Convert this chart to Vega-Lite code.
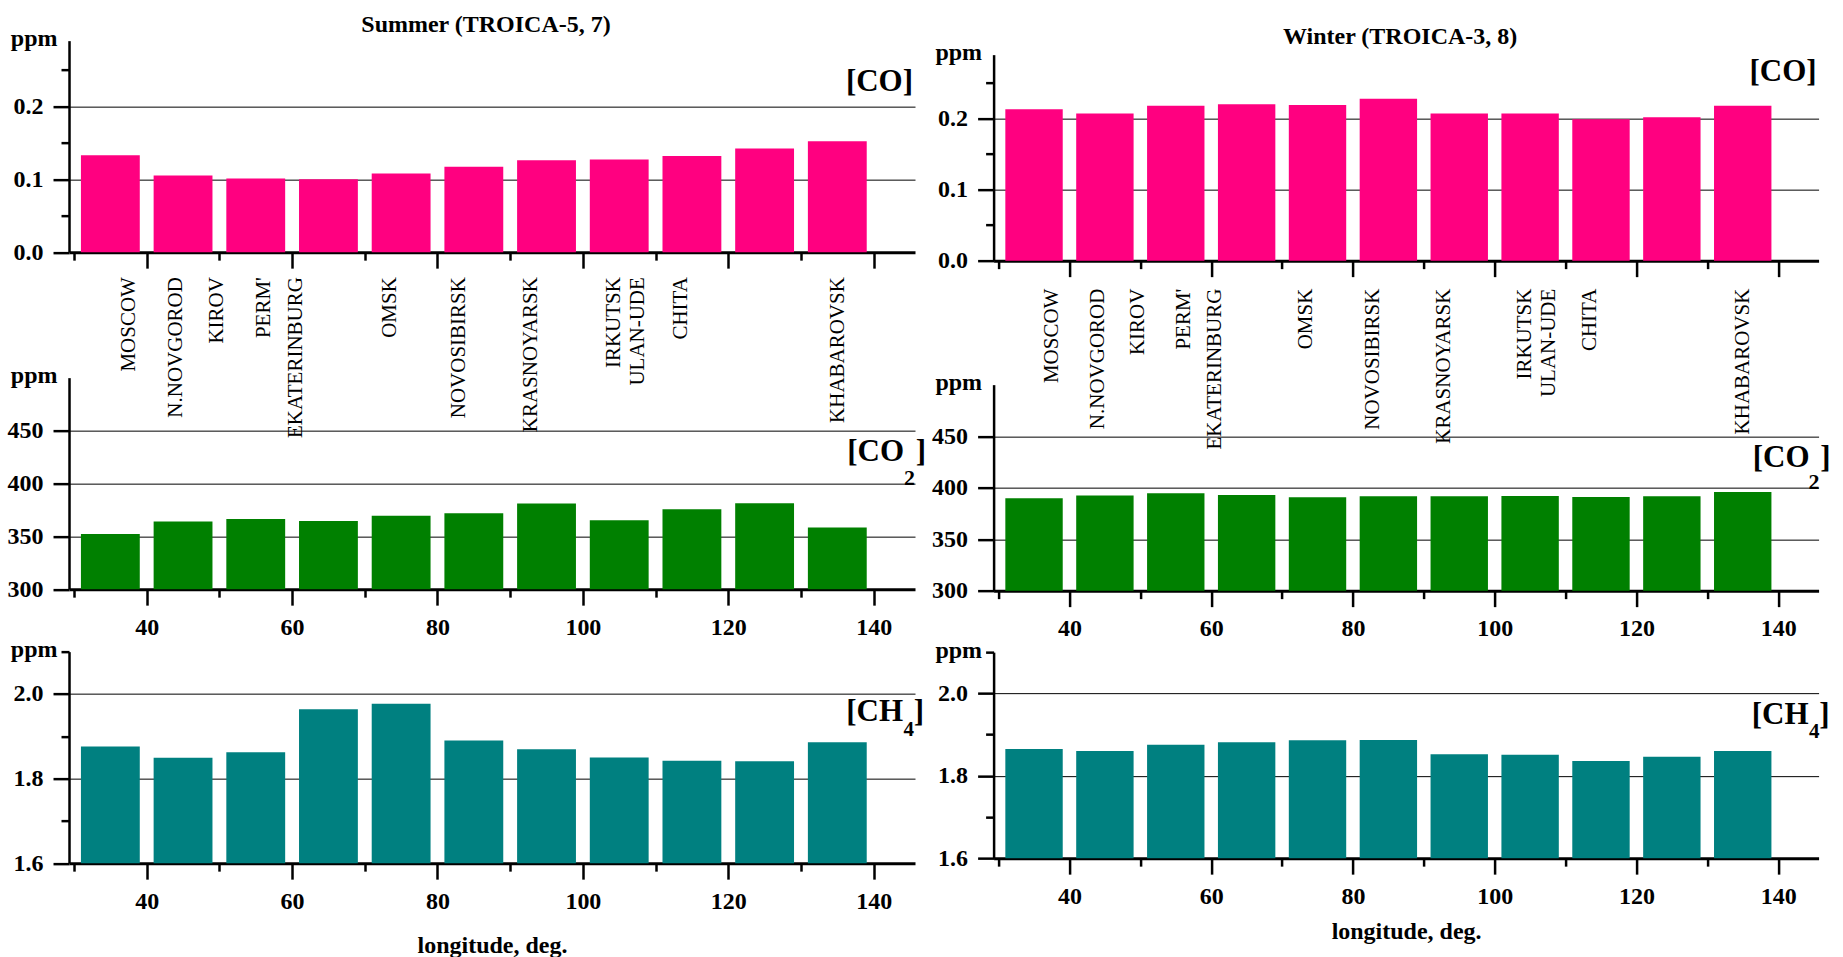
{
 "$schema": "https://vega.github.io/schema/vega-lite/v6.json",
 "padding": {"left": 7, "top": 12.4, "right": 0, "bottom": 0},
 "background": "white",
 "config": {
  "font": "Liberation Serif",
  "view": {"stroke": null},
  "axis": {"domainColor": "#000", "tickColor": "#000", "labelColor": "#000", "titleColor": "#000", "labelFontWeight": "bold", "titleFontWeight": "bold", "labelFontSize": 24, "titleFontSize": 24, "tickWidth": 2.5, "gridColor": "#000", "gridWidth": 1, "labelOverlap": false, "labelFlush": false, "labelBound": false, "labelPadding": 10},
  "axisX": {"domainWidth": 3, "zindex": 1, "grid": false},
  "axisY": {"domainWidth": 2.5, "titleAngle": 0, "titleAlign": "right", "titleBaseline": "alphabetic", "titleX": -12, "titleY": 5},
  "title": {"fontSize": 24, "fontWeight": "bold", "color": "#000", "anchor": "middle", "frame": "group"},
  "text": {"color": "#000"}
 },
 "datasets": {
  "gases": [
   {"season": "Summer", "gas": "CO", "lon": 35, "ppm": 0.133},
   {"season": "Summer", "gas": "CO", "lon": 45, "ppm": 0.105},
   {"season": "Summer", "gas": "CO", "lon": 55, "ppm": 0.101},
   {"season": "Summer", "gas": "CO", "lon": 65, "ppm": 0.100},
   {"season": "Summer", "gas": "CO", "lon": 75, "ppm": 0.108},
   {"season": "Summer", "gas": "CO", "lon": 85, "ppm": 0.117},
   {"season": "Summer", "gas": "CO", "lon": 95, "ppm": 0.126},
   {"season": "Summer", "gas": "CO", "lon": 105, "ppm": 0.127},
   {"season": "Summer", "gas": "CO", "lon": 115, "ppm": 0.132},
   {"season": "Summer", "gas": "CO", "lon": 125, "ppm": 0.142},
   {"season": "Summer", "gas": "CO", "lon": 135, "ppm": 0.152},
   {"season": "Summer", "gas": "CO2", "lon": 35, "ppm": 352.2},
   {"season": "Summer", "gas": "CO2", "lon": 45, "ppm": 363.9},
   {"season": "Summer", "gas": "CO2", "lon": 55, "ppm": 366.4},
   {"season": "Summer", "gas": "CO2", "lon": 65, "ppm": 364.5},
   {"season": "Summer", "gas": "CO2", "lon": 75, "ppm": 369.3},
   {"season": "Summer", "gas": "CO2", "lon": 85, "ppm": 371.8},
   {"season": "Summer", "gas": "CO2", "lon": 95, "ppm": 380.9},
   {"season": "Summer", "gas": "CO2", "lon": 105, "ppm": 365.2},
   {"season": "Summer", "gas": "CO2", "lon": 115, "ppm": 375.6},
   {"season": "Summer", "gas": "CO2", "lon": 125, "ppm": 381.3},
   {"season": "Summer", "gas": "CO2", "lon": 135, "ppm": 358.2},
   {"season": "Summer", "gas": "CH4", "lon": 35, "ppm": 1.876},
   {"season": "Summer", "gas": "CH4", "lon": 45, "ppm": 1.849},
   {"season": "Summer", "gas": "CH4", "lon": 55, "ppm": 1.862},
   {"season": "Summer", "gas": "CH4", "lon": 65, "ppm": 1.964},
   {"season": "Summer", "gas": "CH4", "lon": 75, "ppm": 1.977},
   {"season": "Summer", "gas": "CH4", "lon": 85, "ppm": 1.890},
   {"season": "Summer", "gas": "CH4", "lon": 95, "ppm": 1.869},
   {"season": "Summer", "gas": "CH4", "lon": 105, "ppm": 1.850},
   {"season": "Summer", "gas": "CH4", "lon": 115, "ppm": 1.842},
   {"season": "Summer", "gas": "CH4", "lon": 125, "ppm": 1.841},
   {"season": "Summer", "gas": "CH4", "lon": 135, "ppm": 1.886},
   {"season": "Winter", "gas": "CO", "lon": 35, "ppm": 0.213},
   {"season": "Winter", "gas": "CO", "lon": 45, "ppm": 0.207},
   {"season": "Winter", "gas": "CO", "lon": 55, "ppm": 0.218},
   {"season": "Winter", "gas": "CO", "lon": 65, "ppm": 0.220},
   {"season": "Winter", "gas": "CO", "lon": 75, "ppm": 0.219},
   {"season": "Winter", "gas": "CO", "lon": 85, "ppm": 0.228},
   {"season": "Winter", "gas": "CO", "lon": 95, "ppm": 0.207},
   {"season": "Winter", "gas": "CO", "lon": 105, "ppm": 0.207},
   {"season": "Winter", "gas": "CO", "lon": 115, "ppm": 0.199},
   {"season": "Winter", "gas": "CO", "lon": 125, "ppm": 0.202},
   {"season": "Winter", "gas": "CO", "lon": 135, "ppm": 0.218},
   {"season": "Winter", "gas": "CO2", "lon": 35, "ppm": 389.7},
   {"season": "Winter", "gas": "CO2", "lon": 45, "ppm": 392.3},
   {"season": "Winter", "gas": "CO2", "lon": 55, "ppm": 394.5},
   {"season": "Winter", "gas": "CO2", "lon": 65, "ppm": 392.8},
   {"season": "Winter", "gas": "CO2", "lon": 75, "ppm": 390.6},
   {"season": "Winter", "gas": "CO2", "lon": 85, "ppm": 391.6},
   {"season": "Winter", "gas": "CO2", "lon": 95, "ppm": 391.6},
   {"season": "Winter", "gas": "CO2", "lon": 105, "ppm": 392.0},
   {"season": "Winter", "gas": "CO2", "lon": 115, "ppm": 390.9},
   {"season": "Winter", "gas": "CO2", "lon": 125, "ppm": 391.6},
   {"season": "Winter", "gas": "CO2", "lon": 135, "ppm": 395.7},
   {"season": "Winter", "gas": "CH4", "lon": 35, "ppm": 1.865},
   {"season": "Winter", "gas": "CH4", "lon": 45, "ppm": 1.860},
   {"season": "Winter", "gas": "CH4", "lon": 55, "ppm": 1.875},
   {"season": "Winter", "gas": "CH4", "lon": 65, "ppm": 1.881},
   {"season": "Winter", "gas": "CH4", "lon": 75, "ppm": 1.886},
   {"season": "Winter", "gas": "CH4", "lon": 85, "ppm": 1.887},
   {"season": "Winter", "gas": "CH4", "lon": 95, "ppm": 1.852},
   {"season": "Winter", "gas": "CH4", "lon": 105, "ppm": 1.851},
   {"season": "Winter", "gas": "CH4", "lon": 115, "ppm": 1.836},
   {"season": "Winter", "gas": "CH4", "lon": 125, "ppm": 1.846},
   {"season": "Winter", "gas": "CH4", "lon": 135, "ppm": 1.860}
  ],
  "cities": [
   {"city": "MOSCOW", "lon": 37.6},
   {"city": "N.NOVGOROD", "lon": 44.0},
   {"city": "KIROV", "lon": 49.7},
   {"city": "PERM'", "lon": 56.2},
   {"city": "EKATERINBURG", "lon": 60.6},
   {"city": "OMSK", "lon": 73.4},
   {"city": "NOVOSIBIRSK", "lon": 82.9},
   {"city": "KRASNOYARSK", "lon": 92.9},
   {"city": "IRKUTSK", "lon": 104.3},
   {"city": "ULAN-UDE", "lon": 107.6},
   {"city": "CHITA", "lon": 113.5},
   {"city": "KHABAROVSK", "lon": 135.1}
  ]
 },
 "spacing": 5.6,
 "center": true,
 "hconcat": [
  {
   "spacing": 62,
   "bounds": "flush",
   "vconcat": [
    {
     "width": 846, "height": 211.5,
     "title": {"text": "Summer (TROICA-5, 7)", "offset": -28.9, "baseline": "alphabetic", "dx": -6},
     "layer": [
      {"data": {"name": "gases"}, "transform": [{"filter": "datum.season=='Summer' && datum.gas=='CO'"}],
       "mark": {"type": "bar", "width": 58.85, "color": "#FF0080"},
       "encoding": {
        "x": {"field": "lon", "type": "quantitative", "scale": {"domain": [30, 145], "nice": false, "zero": false},
              "axis": {"values": [30,40,50,60,70,80,90,100,110,120,130,140], "labels": false, "title": null,
                       "tickSize": {"condition": {"test": "datum.value % 20 == 0", "value": 16}, "value": 8}}},
        "y": {"field": "ppm", "type": "quantitative", "scale": {"domain": [0, 0.29], "nice": false},
              "axis": {"title": "ppm", "values": [0,0.05,0.1,0.15,0.2,0.25], "format": ".1f",
                       "labelExpr": "abs(datum.value*10-round(datum.value*10))<0.001 ? datum.label : ''",
                       "tickSize": {"condition": {"test": "abs(datum.value*10-round(datum.value*10))<0.001", "value": 16}, "value": 8},
                       "grid": true,
                       "gridOpacity": {"condition": {"test": "abs(datum.value*10-round(datum.value*10))<0.001 && datum.value>0.001", "value": 1}, "value": 0}}},
        "y2": {"datum": 0}
       }},
      {"data": {"name": "cities"},
       "mark": {"type": "text", "angle": 270, "align": "right", "baseline": "middle", "dx": -25, "fontSize": 21},
       "encoding": {"x": {"field": "lon", "type": "quantitative"}, "y": {"datum": 0}, "text": {"field": "city"}}},
      {"data": {"values": [{"t": "[CO]"}]},
       "mark": {"type": "text", "align": "right", "baseline": "alphabetic", "fontSize": 31, "fontWeight": "bold", "dx": 3},
       "encoding": {"x": {"datum": 145}, "y": {"datum": 0.221}, "text": {"field": "t"}}}
     ]
    },
    {"width": 846, "height": 1, "data": {"values": []}, "mark": "point"},
    {
     "width": 846, "height": 211.5,
     "layer": [
      {"data": {"name": "gases"}, "transform": [{"filter": "datum.season=='Summer' && datum.gas=='CO2'"}],
       "mark": {"type": "bar", "width": 58.85, "color": "#008000"},
       "encoding": {
        "x": {"field": "lon", "type": "quantitative", "scale": {"domain": [30, 145], "nice": false, "zero": false},
              "axis": {"values": [30,40,50,60,70,80,90,100,110,120,130,140], "title": null,
                       "labelExpr": "datum.value % 20 == 0 ? datum.label : ''",
                       "tickSize": {"condition": {"test": "datum.value % 20 == 0", "value": 16}, "value": 8}}},
        "y": {"field": "ppm", "type": "quantitative", "scale": {"domain": [300, 500], "nice": false, "zero": false},
              "axis": {"title": "ppm", "values": [300,325,350,375,400,425,450,475], "format": "d",
                       "labelExpr": "datum.value % 50 == 0 ? datum.label : ''",
                       "tickSize": {"condition": {"test": "datum.value % 50 == 0", "value": 16}, "value": 8},
                       "grid": true,
                       "gridOpacity": {"condition": {"test": "datum.value % 50 == 0 && datum.value > 300", "value": 1}, "value": 0}}},
        "y2": {"datum": 300}
       }},
      {"data": {"values": [{"t": "[CO"}]},
       "mark": {"type": "text", "align": "right", "baseline": "alphabetic", "fontSize": 31, "fontWeight": "bold", "dx": -6},
       "encoding": {"x": {"datum": 145}, "y": {"datum": 421}, "text": {"field": "t"}}},
      {"data": {"values": [{"t": "2"}]},
       "mark": {"type": "text", "align": "right", "baseline": "alphabetic", "fontSize": 22, "fontWeight": "bold", "dx": 5, "dy": 24},
       "encoding": {"x": {"datum": 145}, "y": {"datum": 421}, "text": {"field": "t"}}},
      {"data": {"values": [{"t": "]"}]},
       "mark": {"type": "text", "align": "right", "baseline": "alphabetic", "fontSize": 31, "fontWeight": "bold", "dx": 16},
       "encoding": {"x": {"datum": 145}, "y": {"datum": 421}, "text": {"field": "t"}}}
     ]
    },
    {
     "width": 846, "height": 211.5,
     "layer": [
      {"data": {"name": "gases"}, "transform": [{"filter": "datum.season=='Summer' && datum.gas=='CH4'"}],
       "mark": {"type": "bar", "width": 58.85, "color": "#008080"},
       "encoding": {
        "x": {"field": "lon", "type": "quantitative", "scale": {"domain": [30, 145], "nice": false, "zero": false},
              "axis": {"values": [30,40,50,60,70,80,90,100,110,120,130,140], "title": "longitude, deg.",
                       "titleY": 89, "titleBaseline": "alphabetic",
                       "labelExpr": "datum.value % 20 == 0 ? datum.label : ''",
                       "tickSize": {"condition": {"test": "datum.value % 20 == 0", "value": 16}, "value": 8}}},
        "y": {"field": "ppm", "type": "quantitative", "scale": {"domain": [1.6, 2.1], "nice": false, "zero": false},
              "axis": {"title": "ppm", "values": [1.6,1.7,1.8,1.9,2.0,2.1], "format": ".1f",
                       "labelExpr": "abs(datum.value*5-round(datum.value*5))<0.001 ? datum.label : ''",
                       "tickSize": {"condition": {"test": "abs(datum.value*5-round(datum.value*5))<0.001", "value": 16}, "value": 8},
                       "grid": true,
                       "gridOpacity": {"condition": {"test": "abs(datum.value*5-round(datum.value*5))<0.001 && datum.value>1.61", "value": 1}, "value": 0}}},
        "y2": {"datum": 1.6}
       }},
      {"data": {"values": [{"t": "[CH"}]},
       "mark": {"type": "text", "align": "right", "baseline": "alphabetic", "fontSize": 31, "fontWeight": "bold", "dx": -7},
       "encoding": {"x": {"datum": 145}, "y": {"datum": 1.936}, "text": {"field": "t"}}},
      {"data": {"values": [{"t": "4"}]},
       "mark": {"type": "text", "align": "right", "baseline": "alphabetic", "fontSize": 21, "fontWeight": "bold", "dx": 4, "dy": 15},
       "encoding": {"x": {"datum": 145}, "y": {"datum": 1.936}, "text": {"field": "t"}}},
      {"data": {"values": [{"t": "]"}]},
       "mark": {"type": "text", "align": "right", "baseline": "alphabetic", "fontSize": 31, "fontWeight": "bold", "dx": 14},
       "encoding": {"x": {"datum": 145}, "y": {"datum": 1.936}, "text": {"field": "t"}}}
     ]
    }
   ]
  },
  {
   "spacing": 61.5,
   "bounds": "flush",
   "vconcat": [
    {
     "width": 825, "height": 206,
     "title": {"text": ["", "Winter (TROICA-3, 8)"], "lineHeight": 8, "offset": -27, "baseline": "alphabetic", "dx": -6},
     "layer": [
      {"data": {"name": "gases"}, "transform": [{"filter": "datum.season=='Winter' && datum.gas=='CO'"}],
       "mark": {"type": "bar", "width": 57.4, "color": "#FF0080"},
       "encoding": {
        "x": {"field": "lon", "type": "quantitative", "scale": {"domain": [30, 145], "nice": false, "zero": false},
              "axis": {"values": [30,40,50,60,70,80,90,100,110,120,130,140], "labels": false, "title": null,
                       "tickSize": {"condition": {"test": "datum.value % 20 == 0", "value": 16}, "value": 8}}},
        "y": {"field": "ppm", "type": "quantitative", "scale": {"domain": [0, 0.29], "nice": false},
              "axis": {"title": "ppm", "values": [0,0.05,0.1,0.15,0.2,0.25], "format": ".1f",
                       "labelExpr": "abs(datum.value*10-round(datum.value*10))<0.001 ? datum.label : ''",
                       "tickSize": {"condition": {"test": "abs(datum.value*10-round(datum.value*10))<0.001", "value": 16}, "value": 8},
                       "grid": true,
                       "gridOpacity": {"condition": {"test": "abs(datum.value*10-round(datum.value*10))<0.001 && datum.value>0.001", "value": 1}, "value": 0}}},
        "y2": {"datum": 0}
       }},
      {"data": {"name": "cities"},
       "mark": {"type": "text", "angle": 270, "align": "right", "baseline": "middle", "dx": -28, "fontSize": 21},
       "encoding": {"x": {"field": "lon", "type": "quantitative"}, "y": {"datum": 0}, "text": {"field": "city"}}},
      {"data": {"values": [{"t": "[CO]"}]},
       "mark": {"type": "text", "align": "right", "baseline": "alphabetic", "fontSize": 31, "fontWeight": "bold", "dx": 3},
       "encoding": {"x": {"datum": 145}, "y": {"datum": 0.253}, "text": {"field": "t"}}}
     ]
    },
    {"width": 825, "height": 1, "data": {"values": []}, "mark": "point"},
    {
     "width": 825, "height": 206,
     "layer": [
      {"data": {"name": "gases"}, "transform": [{"filter": "datum.season=='Winter' && datum.gas=='CO2'"}],
       "mark": {"type": "bar", "width": 57.4, "color": "#008000"},
       "encoding": {
        "x": {"field": "lon", "type": "quantitative", "scale": {"domain": [30, 145], "nice": false, "zero": false},
              "axis": {"values": [30,40,50,60,70,80,90,100,110,120,130,140], "title": null,
                       "labelExpr": "datum.value % 20 == 0 ? datum.label : ''",
                       "tickSize": {"condition": {"test": "datum.value % 20 == 0", "value": 16}, "value": 8}}},
        "y": {"field": "ppm", "type": "quantitative", "scale": {"domain": [300, 500], "nice": false, "zero": false},
              "axis": {"title": "ppm", "values": [300,325,350,375,400,425,450,475], "format": "d",
                       "labelExpr": "datum.value % 50 == 0 ? datum.label : ''",
                       "tickSize": {"condition": {"test": "datum.value % 50 == 0", "value": 16}, "value": 8},
                       "grid": true,
                       "gridOpacity": {"condition": {"test": "datum.value % 50 == 0 && datum.value > 300", "value": 1}, "value": 0}}},
        "y2": {"datum": 300}
       }},
      {"data": {"values": [{"t": "[CO"}]},
       "mark": {"type": "text", "align": "right", "baseline": "alphabetic", "fontSize": 31, "fontWeight": "bold", "dx": -4},
       "encoding": {"x": {"datum": 145}, "y": {"datum": 420}, "text": {"field": "t"}}},
      {"data": {"values": [{"t": "2"}]},
       "mark": {"type": "text", "align": "right", "baseline": "alphabetic", "fontSize": 22, "fontWeight": "bold", "dx": 6, "dy": 22},
       "encoding": {"x": {"datum": 145}, "y": {"datum": 420}, "text": {"field": "t"}}},
      {"data": {"values": [{"t": "]"}]},
       "mark": {"type": "text", "align": "right", "baseline": "alphabetic", "fontSize": 31, "fontWeight": "bold", "dx": 17},
       "encoding": {"x": {"datum": 145}, "y": {"datum": 420}, "text": {"field": "t"}}}
     ]
    },
    {
     "width": 825, "height": 206,
     "layer": [
      {"data": {"name": "gases"}, "transform": [{"filter": "datum.season=='Winter' && datum.gas=='CH4'"}],
       "mark": {"type": "bar", "width": 57.4, "color": "#008080"},
       "encoding": {
        "x": {"field": "lon", "type": "quantitative", "scale": {"domain": [30, 145], "nice": false, "zero": false},
              "axis": {"values": [30,40,50,60,70,80,90,100,110,120,130,140], "title": "longitude, deg.",
                       "titleY": 80, "titleBaseline": "alphabetic",
                       "labelExpr": "datum.value % 20 == 0 ? datum.label : ''",
                       "tickSize": {"condition": {"test": "datum.value % 20 == 0", "value": 16}, "value": 8}}},
        "y": {"field": "ppm", "type": "quantitative", "scale": {"domain": [1.6, 2.1], "nice": false, "zero": false},
              "axis": {"title": "ppm", "values": [1.6,1.7,1.8,1.9,2.0,2.1], "format": ".1f",
                       "labelExpr": "abs(datum.value*5-round(datum.value*5))<0.001 ? datum.label : ''",
                       "tickSize": {"condition": {"test": "abs(datum.value*5-round(datum.value*5))<0.001", "value": 16}, "value": 8},
                       "grid": true,
                       "gridOpacity": {"condition": {"test": "abs(datum.value*5-round(datum.value*5))<0.001 && datum.value>1.61", "value": 1}, "value": 0}}},
        "y2": {"datum": 1.6}
       }},
      {"data": {"values": [{"t": "[CH"}]},
       "mark": {"type": "text", "align": "right", "baseline": "alphabetic", "fontSize": 31, "fontWeight": "bold", "dx": -5},
       "encoding": {"x": {"datum": 145}, "y": {"datum": 1.925}, "text": {"field": "t"}}},
      {"data": {"values": [{"t": "4"}]},
       "mark": {"type": "text", "align": "right", "baseline": "alphabetic", "fontSize": 21, "fontWeight": "bold", "dx": 6, "dy": 14},
       "encoding": {"x": {"datum": 145}, "y": {"datum": 1.925}, "text": {"field": "t"}}},
      {"data": {"values": [{"t": "]"}]},
       "mark": {"type": "text", "align": "right", "baseline": "alphabetic", "fontSize": 31, "fontWeight": "bold", "dx": 16},
       "encoding": {"x": {"datum": 145}, "y": {"datum": 1.925}, "text": {"field": "t"}}}
     ]
    }
   ]
  }
 ]
}
